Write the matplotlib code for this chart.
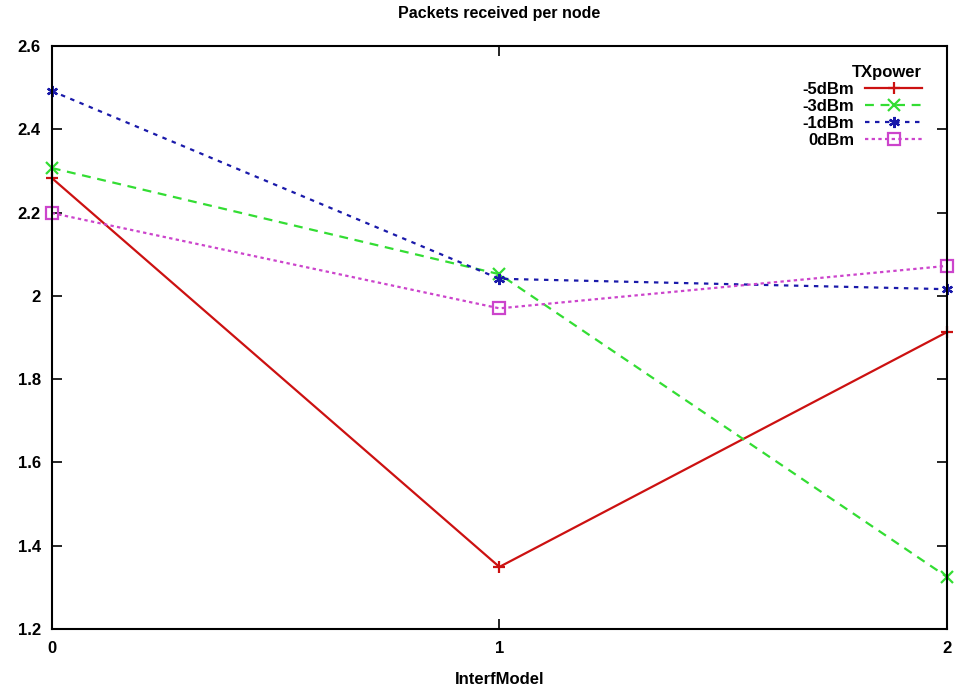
import matplotlib
matplotlib.use("Agg")
import matplotlib.pyplot as plt

plt.rcParams['font.family'] = ['Liberation Sans', 'DejaVu Sans']
plt.rcParams['font.weight'] = 'bold'

interf_model = [0, 1, 2]
tx_labels = ['-5dBm', '-3dBm', '-1dBm', '0dBm']
p_m5 = [2.283, 1.349, 1.913]
p_m3 = [2.307, 2.052, 1.325]
p_m1 = [2.492, 2.041, 2.016]
p_0 = [2.199, 1.970, 2.072]

series = [p_m5, p_m3, p_m1, p_0]
colors = ['#cc1111', '#33dd33', '#1a1aaa', '#cc44cc']
styles = ['-', (0, (4, 3)), (0, (2, 2.5)), (0, (1.5, 1.5))]
markers = ['+', 'x', (6, 2, 0), 's']

fig = plt.figure(figsize=(9.59, 6.93), dpi=100)
ax = fig.add_axes([0.054, 0.0924, 0.9335, 0.8412])

for vals, lab, c, ls, m in zip(series, tx_labels, colors, styles, markers):
    mfc = 'none' if m == 's' else c
    ax.plot(interf_model, vals, color=c, linestyle=ls, linewidth=1.6,
            marker=m, markersize=8, markerfacecolor=mfc, markeredgecolor=c,
            markeredgewidth=1.6, label=lab, clip_on=False)

ax.set_xlim(0, 2)
ax.set_ylim(1.2, 2.6)
ax.set_xticks([0, 1, 2])
ax.set_xticklabels(['0', '1', '2'])
ax.set_yticks([1.2, 1.4, 1.6, 1.8, 2.0, 2.2, 2.4, 2.6])
ax.set_yticklabels(['1.2', '1.4', '1.6', '1.8', '2', '2.2', '2.4', '2.6'])
ax.tick_params(direction='in', length=7, width=1.2, top=True, right=True,
               labelsize=12)
ax.tick_params(axis='y', pad=8)
ax.tick_params(axis='x', pad=9)
for s in ax.spines.values():
    s.set_linewidth(1.5)

ax.set_title('Packets received per node', fontsize=11.5, fontweight='bold', pad=20)
ax.set_xlabel('InterfModel', fontsize=12, fontweight='bold', labelpad=11)

leg = ax.legend(title='TXpower', loc='upper right', frameon=False,
                markerfirst=False, fontsize=12, title_fontsize=12,
                handlelength=3.4, handletextpad=0.65, labelspacing=0.12,
                alignment='right', borderpad=0, borderaxespad=0,
                bbox_to_anchor=(0.972, 0.968))

fig.savefig('out.png', dpi=100)
